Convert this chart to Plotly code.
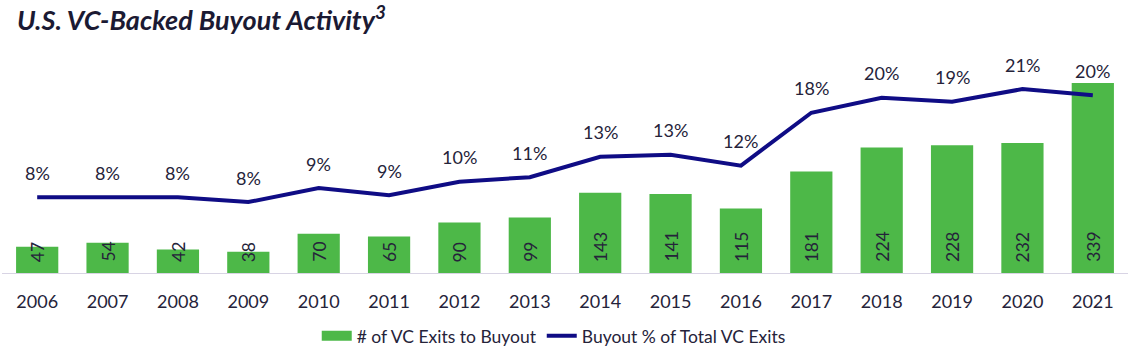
import plotly.graph_objects as go

years = [str(y) for y in range(2006, 2022)]
exits = [47, 54, 42, 38, 70, 65, 90, 99, 143, 141, 115, 181, 224, 228, 232, 339]
pct_values = [8.26, 8.29, 8.26, 7.71, 9.34, 8.5, 10.07, 10.6, 12.97, 13.2, 11.93, 18.07, 19.81, 19.35, 20.82, 20.09]
pct_labels = ["8%", "8%", "8%", "8%", "9%", "9%", "10%", "11%", "13%", "13%", "12%", "18%", "20%", "19%", "21%", "20%"]

GREEN = "#4db848"
NAVY = "#0f0c85"
TEXT = "#25233a"
FONT = "Lato"

fig = go.Figure()
fig.add_trace(go.Bar(
    x=years, y=exits, marker=dict(color=GREEN, line=dict(width=0)),
    showlegend=False, name="# of VC Exits to Buyout", hoverinfo="skip",
))
# legend-only swatch for the bars (wide rectangle style)
fig.add_trace(go.Scatter(
    x=[years[0]], y=[None], mode="lines", line=dict(color=GREEN, width=10),
    name="# of VC Exits to Buyout",
))
fig.add_trace(go.Scatter(
    x=years, y=pct_values, mode="lines", yaxis="y2",
    line=dict(color=NAVY, width=4), name="Buyout % of Total VC Exits",
))

annotations = []
for i, v in enumerate(exits):
    annotations.append(dict(
        x=i, y=0, xref="x", yref="y", text=str(v), showarrow=False,
        textangle=-90, yanchor="bottom", yshift=9,
        font=dict(family=FONT, size=17.5, color=TEXT),
    ))
for i, (v, lab) in enumerate(zip(pct_values, pct_labels)):
    annotations.append(dict(
        x=i, y=v, xref="x", yref="y2", text=lab, showarrow=False,
        yanchor="middle", yshift=24.5,
        font=dict(family=FONT, size=18, color=TEXT),
    ))

fig.update_layout(
    width=1132, height=358,
    margin=dict(l=2, r=4, t=40, b=85),
    paper_bgcolor="white", plot_bgcolor="white",
    bargap=0.4,
    title=dict(
        text="U.S. VC-Backed Buyout Activity<sup>3</sup>",
        x=17 / 1132, xref="container", xanchor="left",
        y=1 - 21 / 358, yref="container", yanchor="middle",
        font=dict(family=FONT, size=27, color="#1b1a33", weight="bold", style="italic"),
    ),
    xaxis=dict(
        type="category", categoryorder="array", categoryarray=years,
        range=[-0.5, len(years) - 0.5],
        showgrid=False, showline=True, linecolor="#d8d4e4", linewidth=1,
        ticks="", ticklabelstandoff=12,
        tickfont=dict(family=FONT, size=18, color=TEXT),
    ),
    yaxis=dict(range=[0, 415.7], visible=False, showgrid=False),
    yaxis2=dict(range=[-0.52, 26.51], overlaying="y", visible=False, showgrid=False),
    legend=dict(
        orientation="h", x=0.49, xanchor="center", y=-0.27, yanchor="middle",
        font=dict(family=FONT, size=17.5, color=TEXT),
        itemwidth=30, traceorder="normal",
    ),
    annotations=annotations,
    showlegend=True,
)

fig.write_html("out.html", config={"displayModeBar": False},
               post_script="document.body.style.margin='0';")
